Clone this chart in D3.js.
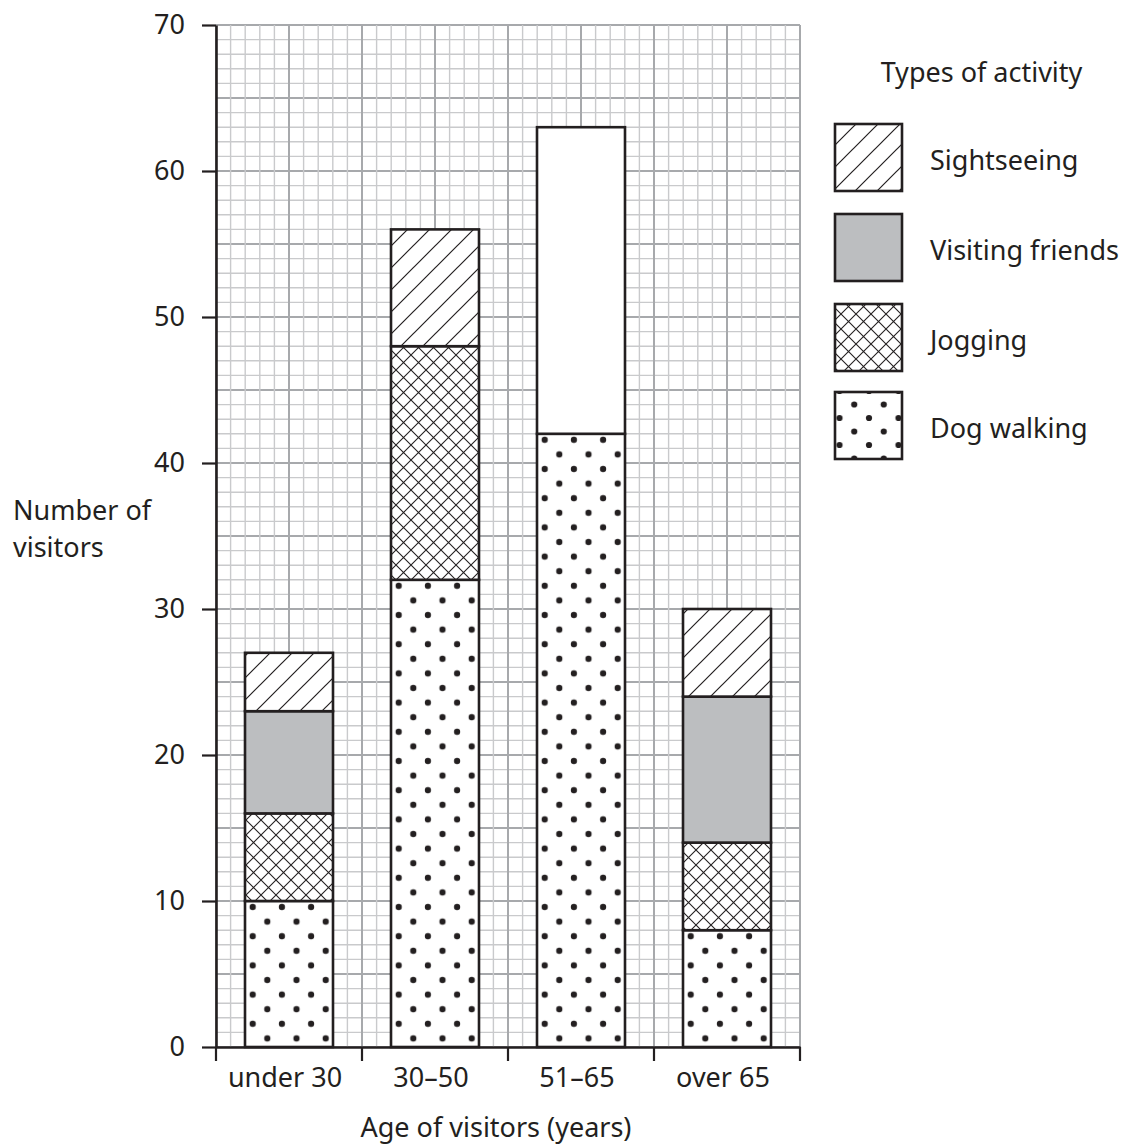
<!DOCTYPE html>
<html>
<head>
<meta charset="utf-8">
<script src="https://cdn.jsdelivr.net/npm/d3@7"></script>
<style>
html,body{margin:0;padding:0;background:#fff;}
svg{display:block;font-family:"Noto Sans","Open Sans",sans-serif;}
</style>
</head>
<body>
<svg id="chart" width="1126" height="1147"></svg>
<script>
const categories = ["under 30", "30\u201350", "51\u201365", "over 65"];
const seriesNames = ["Dog walking", "Jogging", "Visiting friends", "Sightseeing", "Not shaded"];
const dogWalking = [10, 32, 42, 8];
const jogging = [6, 16, 0, 6];
const visitingFriends = [7, 0, 0, 10];
const sightseeing = [4, 8, 0, 6];
const notShaded = [0, 0, 21, 0];
const yTicks = [0, 10, 20, 30, 40, 50, 60, 70];
const legendOrder = ["Sightseeing", "Visiting friends", "Jogging", "Dog walking"];

(function () {
const ink = "#231f20";
const fs = 27;
const svg = d3.select("#chart");
const pL = 216, pR = 800, pT = 25, pB = 1047;

const y = d3.scaleLinear().domain([0, 70]).range([pB, pT]);
const x = d3.scaleBand().domain(categories).range([pL, pR]).paddingInner(0.3973).paddingOuter(0.3973 / 2);
const xg = d3.scaleLinear().domain([0, 40]).range([pL, pR]);

const defs = svg.append("defs");
const u = (pB - pT) / 70;
function hatch(id, ox, oy) {
  const s = 22;
  const p = defs.append("pattern").attr("id", id).attr("patternUnits", "userSpaceOnUse")
    .attr("width", s).attr("height", s).attr("x", ox).attr("y", oy);
  p.append("rect").attr("width", s).attr("height", s).attr("fill", "#fff");
  p.append("path").attr("d", `M0,${s} L${s},0 M${-s/2},${s/2} L${s/2},${-s/2} M${s/2},${s*1.5} L${s*1.5},${s/2}`)
    .attr("stroke", ink).attr("stroke-width", 1.2);
}
function cross(id, ox, oy) {
  const s = 15;
  const p = defs.append("pattern").attr("id", id).attr("patternUnits", "userSpaceOnUse")
    .attr("width", s).attr("height", s).attr("x", ox).attr("y", oy);
  p.append("rect").attr("width", s).attr("height", s).attr("fill", "#fff");
  p.append("path").attr("d", `M0,${s} L${s},0 M${-s/2},${s/2} L${s/2},${-s/2} M${s/2},${s*1.5} L${s*1.5},${s/2}
     M0,0 L${s},${s} M${-s/2},${s/2} L${s/2},${s*1.5} M${s/2},${-s/2} L${s*1.5},${s/2}`)
    .attr("stroke", ink).attr("stroke-width", 1.1);
}
function dots(id, w, h, ox, oy) {
  const p = defs.append("pattern").attr("id", id).attr("patternUnits", "userSpaceOnUse")
    .attr("width", w).attr("height", h).attr("x", ox).attr("y", oy);
  p.append("rect").attr("width", w).attr("height", h).attr("fill", "#fff");
  [[0,0],[w,0],[0,h],[w,h],[w/2,h/2]].forEach(([cx,cy]) =>
    p.append("circle").attr("cx", cx).attr("cy", cy).attr("r", 3.1).attr("fill", ink));
}
hatch("hatch", pL, pT);
cross("cross", pL, pT);
dots("dots", 2 * u, 2 * u, 252.7, 907);
dots("dotsLeg", 29.5, 27, 860, 404);

const fills = {
  "Dog walking": "url(#dots)",
  "Jogging": "url(#cross)",
  "Visiting friends": "#bcbec0",
  "Sightseeing": "url(#hatch)",
  "Not shaded": "#ffffff"
};
const legendFills = Object.assign({}, fills, {"Dog walking": "url(#dotsLeg)"});

const grid = svg.append("g");
d3.range(0, 71).forEach(v => {
  const major = v % 5 === 0;
  grid.append("line").attr("x1", pL).attr("x2", pR).attr("y1", y(v)).attr("y2", y(v))
    .attr("stroke", major ? "#a7a9ac" : "#c9cacc").attr("stroke-width", major ? 2 : 1.4);
});
d3.range(0, 41).forEach(v => {
  const major = v % 5 === 0;
  grid.append("line").attr("x1", xg(v)).attr("x2", xg(v)).attr("y1", pT).attr("y2", pB)
    .attr("stroke", major ? "#a7a9ac" : "#c9cacc").attr("stroke-width", major ? 2 : 1.4);
});

const table = categories.map((c, i) => ({
  cat: c,
  "Dog walking": dogWalking[i],
  "Jogging": jogging[i],
  "Visiting friends": visitingFriends[i],
  "Sightseeing": sightseeing[i],
  "Not shaded": notShaded[i]
}));
const stacked = d3.stack().keys(seriesNames)(table);

const bars = svg.append("g");
stacked.forEach(layer => {
  bars.selectAll(null).data(layer.filter(d => d[1] > d[0])).enter().append("rect")
    .attr("x", d => x(d.data.cat))
    .attr("width", x.bandwidth())
    .attr("y", d => y(d[1]))
    .attr("height", d => y(d[0]) - y(d[1]))
    .attr("fill", fills[layer.key])
    .attr("stroke", ink).attr("stroke-width", 2.6);
});

const yAxis = svg.append("g").attr("transform", `translate(${pL},0)`)
  .call(d3.axisLeft(y).tickValues(yTicks).tickSize(14).tickPadding(17).tickSizeOuter(0));
yAxis.select(".domain").attr("stroke", ink).attr("stroke-width", 2.6);
yAxis.selectAll(".tick line").attr("stroke", ink).attr("stroke-width", 2.2);
yAxis.selectAll(".tick text").attr("fill", ink).attr("font-size", fs)
  .attr("font-family", "Noto Sans");

const xAxis = svg.append("g").attr("transform", `translate(0,${pB})`)
  .call(d3.axisBottom(x).tickSize(0).tickPadding(21).tickSizeOuter(0));
xAxis.select(".domain").attr("stroke", ink).attr("stroke-width", 2.6);
xAxis.selectAll(".tick text").attr("fill", ink).attr("font-size", fs)
  .attr("font-family", "Noto Sans").attr("dx", -4);
const bounds = [pL].concat(categories.map(c => x(c) + x.bandwidth() + (x.step() - x.bandwidth()) / 2));
svg.append("g").selectAll("line").data(bounds).enter().append("line")
  .attr("x1", d => d).attr("x2", d => d).attr("y1", pB).attr("y2", pB + 14)
  .attr("stroke", ink).attr("stroke-width", 2.2);

svg.append("text").attr("x", 496).attr("y", 1137).attr("text-anchor", "middle")
  .attr("font-size", fs).attr("fill", ink).text("Age of visitors (years)");
svg.append("text").attr("x", 13).attr("y", 520).attr("font-size", fs).attr("fill", ink).text("Number of");
svg.append("text").attr("x", 13).attr("y", 557).attr("font-size", fs).attr("fill", ink).text("visitors");

svg.append("text").attr("x", 981.5).attr("y", 82).attr("text-anchor", "middle")
  .attr("font-size", fs).attr("fill", ink).text("Types of activity");
const legY = [124, 214, 304, 392];
const leg = svg.append("g").selectAll("g").data(legendOrder).enter().append("g")
  .attr("transform", (d, i) => `translate(835,${legY[i]})`);
leg.append("rect").attr("width", 67).attr("height", 67)
  .attr("fill", d => legendFills[d]).attr("stroke", ink).attr("stroke-width", 2.6);
leg.append("text").attr("x", 95).attr("y", 46)
  .attr("font-size", fs).attr("fill", ink).text(d => d);
})();
</script>
</body>
</html>
